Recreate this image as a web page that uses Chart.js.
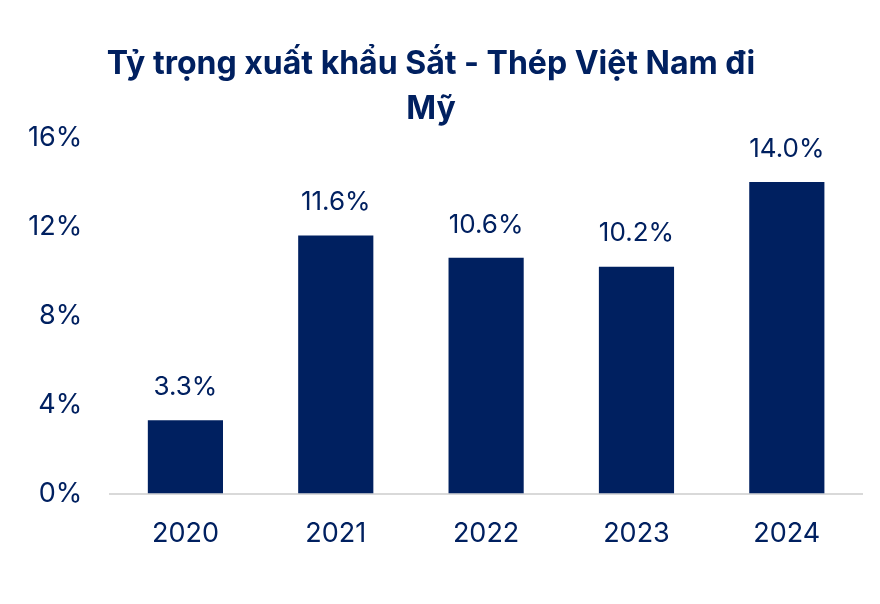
<!DOCTYPE html>
<html>
<head>
<meta charset="utf-8">
<script src="https://cdn.jsdelivr.net/npm/chart.js@4"></script>
<style>
  html, body { margin: 0; padding: 0; background: #fff; }
  #wrap { width: 880px; height: 604px; }
</style>
</head>
<body>
<div id="wrap"><canvas id="c"></canvas></div>
<script>
'use strict';

// ── Data ─────────────────────────────────────────────────────────────────────
const YEARS  = ['2020', '2021', '2022', '2023', '2024'];
const SHARES = [3.3, 11.6, 10.6, 10.2, 14.0];
const TITLE  = ['Tỷ trọng xuất khẩu Sắt - Thép Việt Nam đi', 'Mỹ'];

const NAVY = '#002060';
const FONT = 'Inter, "Noto Sans", sans-serif';

// value labels above each bar
const barLabels = {
  id: 'barLabels',
  afterDatasetsDraw(chart) {
    const ctx = chart.ctx;
    const meta = chart.getDatasetMeta(0);
    ctx.save();
    ctx.fillStyle = NAVY;
    ctx.font = `26px ${FONT}`;
    ctx.textAlign = 'center';
    ctx.textBaseline = 'bottom';
    meta.data.forEach((bar, i) => {
      ctx.fillText(SHARES[i].toFixed(1) + '%', bar.x, bar.y - 20);
    });
    ctx.restore();
  },
};

new Chart(document.getElementById('c'), {
  type: 'bar',
  data: {
    labels: YEARS,
    datasets: [{ data: SHARES, backgroundColor: NAVY, barPercentage: 0.5, categoryPercentage: 1 }],
  },
  options: {
    responsive: true,
    maintainAspectRatio: false,
    animation: false,
    layout: { padding: { left: 0, right: 18, top: 42, bottom: 30 } },
    plugins: {
      legend: { display: false },
      tooltip: { enabled: false },
      title: {
        display: true, text: TITLE, color: NAVY,
        font: { family: FONT, size: 32, weight: 'bold', lineHeight: 1.4 },
        padding: { top: 0, bottom: 6 },
      },
    },
    scales: {
      x: {
        grid: { display: false, drawTicks: false },
        border: { color: '#d9d9d9', width: 2 },
        ticks: { color: NAVY, font: { family: FONT, size: 27 }, padding: 24 },
      },
      y: {
        min: 0, max: 16,
        grid: { display: false, drawTicks: false },
        border: { display: false },
        ticks: { stepSize: 4, color: NAVY, font: { family: FONT, size: 27 }, padding: 28,
                 callback: v => v + '%' },
      },
    },
  },
  plugins: [barLabels],
});
</script>
</body>
</html>
